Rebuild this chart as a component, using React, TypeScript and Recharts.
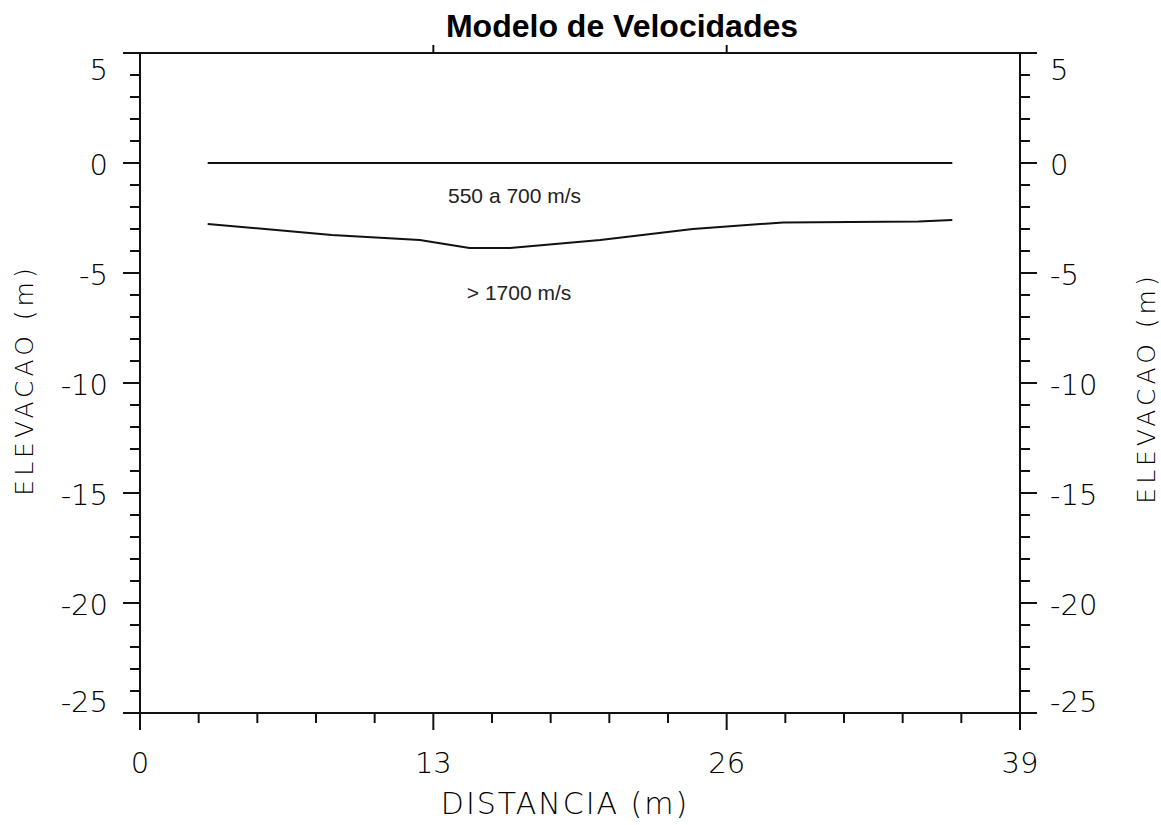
import React from "react";
import { LineChart, Line, XAxis, YAxis, ReferenceDot } from "recharts";

// profile geometry (m)
const topX = [3, 36];
const topY = [0, 0];
const baseX = [3, 8.5, 12.4, 14.6, 16.4, 20.4, 24.5, 28.5, 34.5, 36];
const baseY = [-2.77, -3.27, -3.5, -3.86, -3.86, -3.5, -3.0, -2.7, -2.66, -2.59];

const xTicks = [0, 2.6, 5.2, 7.8, 10.4, 13, 15.6, 18.2, 20.8, 23.4, 26, 28.6, 31.2, 33.8, 36.4, 39];
const xMajor = [0, 13, 26, 39];
const xTopTicks = [13, 26];
const yTicks = [5, 4, 3, 2, 1, 0, -1, -2, -3, -4, -5, -6, -7, -8, -9, -10, -11, -12, -13, -14, -15, -16, -17, -18, -19, -20, -21, -22, -23, -24, -25];
const yMajor = [5, 0, -5, -10, -15, -20, -25];

const layers = [
  { label: "550 a 700 m/s", x: 16.6, y: -1.5 },
  { label: "> 1700 m/s", x: 16.8, y: -5.9 },
];

const topLine = topX.map((x, i) => ({ x, y: topY[i] }));
const baseLine = baseX.map((x, i) => ({ x, y: baseY[i] }));

const MONO = "'DejaVu Sans', sans-serif";
const SANS = "'Liberation Sans', Arial, sans-serif";
const INK = "#111";

function XTick({ x, y, payload }: any) {
  const major = xMajor.includes(payload.value);
  return (
    <g>
      <line x1={x} x2={x} y1={y} y2={y + (major ? 17 : 10)} stroke={INK} strokeWidth={2} />
      {major && (
        <text x={x} y={y + 60} textAnchor="middle" fontFamily={MONO} fontWeight={200} fontSize={29} fill="#000">
          {payload.value}
        </text>
      )}
    </g>
  );
}

function TopTick({ x, y }: any) {
  return <line x1={x} x2={x} y1={y} y2={y - 8} stroke={INK} strokeWidth={2} />;
}

function yOffset(v: number) {
  if (v === 5) return 27;
  if (v === -25) return -1;
  return 12;
}

function LeftTick({ x, y, payload }: any) {
  const major = yMajor.includes(payload.value);
  return (
    <g>
      <line x1={x} x2={x - (major ? 17 : 10)} y1={y} y2={y} stroke={INK} strokeWidth={2} />
      {major && (
        <text x={x - 32} y={y + yOffset(payload.value)} textAnchor="end" fontFamily={MONO} fontWeight={200} fontSize={29} fill="#000">
          {payload.value}
        </text>
      )}
    </g>
  );
}

function RightTick({ x, y, payload }: any) {
  const major = yMajor.includes(payload.value);
  return (
    <g>
      <line x1={x} x2={x + (major ? 17 : 10)} y1={y} y2={y} stroke={INK} strokeWidth={2} />
      {major && (
        <text x={x + 30} y={y + yOffset(payload.value)} textAnchor="start" fontFamily={MONO} fontWeight={200} fontSize={29} fill="#000">
          {payload.value}
        </text>
      )}
    </g>
  );
}

const axisTitle = (text: string, x: number, y: number, size: number, spacing: number, rotate: boolean) => () => (
  <text
    x={x}
    y={y}
    textAnchor="middle"
    fontFamily={MONO}
    fontWeight={200}
    fontSize={size}
    letterSpacing={spacing}
    fill="#000"
    transform={rotate ? `rotate(-90 ${x} ${y})` : undefined}
  >
    {text}
  </text>
);

const titleContent = () => (
  <text x={622} y={37} textAnchor="middle" fontFamily={SANS} fontWeight="bold" fontSize={32} fill="#000">
    Modelo de Velocidades
  </text>
);

export default function App() {
  return (
    <div style={{ position: "absolute", left: 0, top: 0, background: "#fff" }}>
      <LineChart width={1161} height={825} margin={{ top: 33, right: 41, bottom: 52, left: 40 }}>
        <XAxis
          xAxisId="top"
          orientation="top"
          type="number"
          dataKey="x"
          domain={[0, 39]}
          ticks={xTopTicks}
          interval={0}
          tickSize={0}
          tickMargin={0}
          tickLine={false}
          tick={<TopTick />}
          height={20}
          axisLine={{ stroke: INK, strokeWidth: 2 }}
          label={{ content: titleContent }}
        />
        <XAxis
          type="number"
          dataKey="x"
          domain={[0, 39]}
          ticks={xTicks}
          interval={0}
          tickSize={0}
          tickMargin={0}
          tickLine={false}
          tick={<XTick />}
          height={60}
          axisLine={{ stroke: INK, strokeWidth: 2 }}
          label={{ content: axisTitle("DISTANCIA (m)", 565, 814, 30, 2, false) }}
        />
        <YAxis
          yAxisId="left"
          type="number"
          domain={[-25, 5]}
          ticks={yTicks}
          interval={0}
          tickSize={0}
          tickMargin={0}
          tickLine={false}
          tick={<LeftTick />}
          width={100}
          axisLine={{ stroke: INK, strokeWidth: 2 }}
          label={{ content: axisTitle("ELEVACAO (m)", 33, 380, 25, 4, true) }}
        />
        <YAxis
          yAxisId="right"
          orientation="right"
          type="number"
          domain={[-25, 5]}
          ticks={yTicks}
          interval={0}
          tickSize={0}
          tickMargin={0}
          tickLine={false}
          tick={<RightTick />}
          width={100}
          axisLine={{ stroke: INK, strokeWidth: 2 }}
          label={{ content: axisTitle("ELEVACAO (m)", 1155, 388, 25, 4, true) }}
        />
        <Line
          xAxisId="top"
          yAxisId="right"
          data={topLine}
          dataKey="y"
          type="linear"
          stroke={INK}
          strokeWidth={2}
          dot={false}
          isAnimationActive={false}
        />
        <Line
          yAxisId="left"
          data={baseLine}
          dataKey="y"
          type="linear"
          stroke={INK}
          strokeWidth={2}
          dot={false}
          isAnimationActive={false}
        />
        {layers.map((l) => (
          <ReferenceDot
            key={l.label}
            yAxisId="left"
            x={l.x}
            y={l.y}
            r={0}
            fill="none"
            stroke="none"
            label={{ value: l.label, position: "center", fontFamily: SANS, fontSize: 21, fill: "#222" }}
          />
        ))}
      </LineChart>
    </div>
  );
}
